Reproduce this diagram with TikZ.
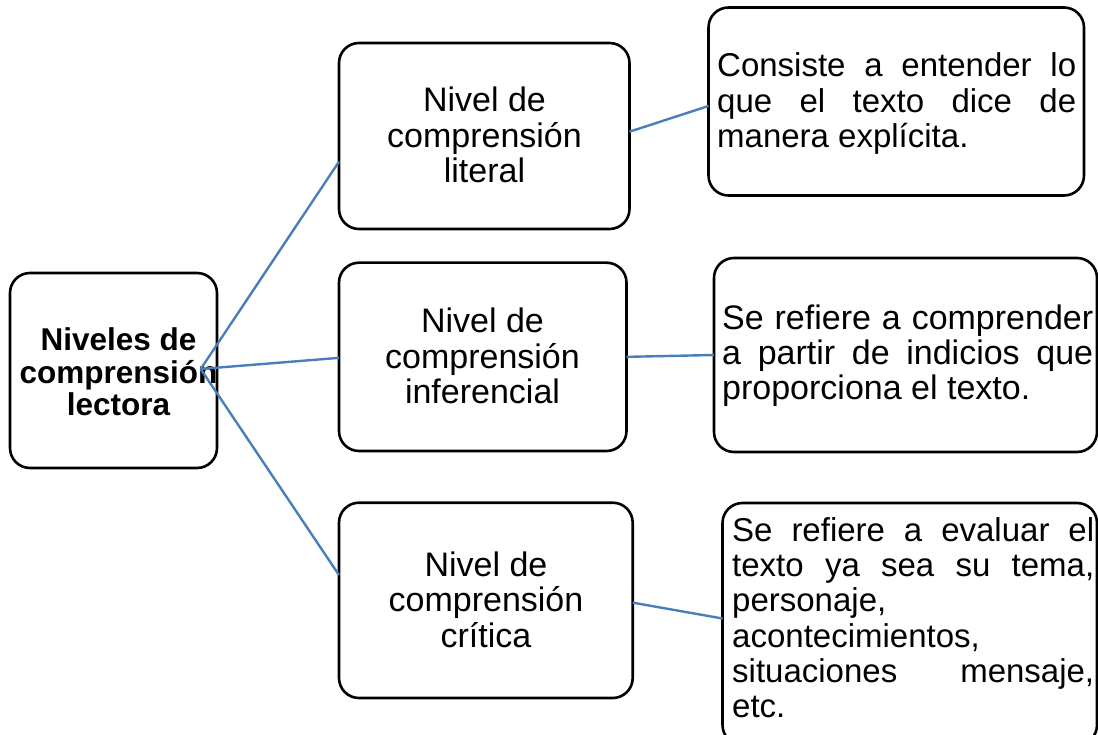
\documentclass[tikz,border=0pt]{standalone}
\usepackage{fontspec}
\setmainfont{Liberation Sans}
\newcommand\clines[1]{\vtop{\halign{\hfil##\hfil\cr#1\crcr}}}
\newcommand\gap{\hskip 0.28em plus 1fill\relax}
\definecolor{connblue}{RGB}{74,126,187}
\begin{document}
\begin{tikzpicture}[x=1pt,y=-1pt,
  box/.style={draw=black, line width=2.6pt, rounded corners=20pt, inner sep=0pt, outer sep=0pt, fill=white},
  conn/.style={draw=connblue, line width=2.4pt},
  midtext/.style={font=\fontsize{34}{35.5}\selectfont, anchor=base, inner sep=0pt},
  desctext/.style={font=\fontsize{33}{35.2}\selectfont, anchor=base west, inner sep=0pt},
  desctextb/.style={font=\fontsize{34}{35}\selectfont, anchor=base west, inner sep=0pt},
  roottext/.style={font=\bfseries\fontsize{31.5}{32.5}\selectfont, anchor=base, inner sep=0pt}]
\useasboundingbox[fill=white] (0,0) rectangle (1098,735);

% boxes
\node[box, minimum width=207pt, minimum height=195pt] (root) at (113.5,370.5) {};
\node[box, minimum width=290.5pt, minimum height=186pt] (lit) at (484.25,136) {};
\node[box, minimum width=287.5pt, minimum height=188.3pt] (inf) at (482.75,356.85) {};
\node[box, minimum width=293.7pt, minimum height=195.3pt] (cri) at (485.85,600.35) {};
\node[box, minimum width=375.5pt, minimum height=188pt] (d1) at (896.25,101.5) {};
\node[box, minimum width=383pt, minimum height=194pt] (d2) at (905.5,355) {};
\node[box, minimum width=374.5pt, minimum height=242pt] (d3) at (909.75,624) {};

% texts
\node[roottext] (rootT) at (118.5,351) {\clines{Niveles de\cr comprensión\cr lectora}};
\node[midtext] (litT) at (484.5,112) {\clines{Nivel de\cr comprensión\cr literal}};
\node[midtext] (infT) at (482.5,333) {\clines{Nivel de\cr comprensión\cr inferencial}};
\node[midtext] (criT) at (486,576) {\clines{Nivel de\cr comprensión\cr crítica}};

\node[desctext] (d1T) at (717,77) {\vtop{%
  \hbox to 359pt{Consiste\gap a\gap entender\gap lo}%
  \hbox to 359pt{que\gap el\gap texto\gap dice\gap de}%
  \hbox{manera explícita.}}};
\node[desctextb] (d2T) at (722,330) {\vtop{%
  \hbox to 371pt{Se\gap refiere\gap a\gap comprender}%
  \hbox to 371pt{a\gap partir\gap de\gap indicios\gap que}%
  \hbox{proporciona el texto.}}};
\node[desctext] (d3T) at (732,541.5) {\vtop{%
  \hbox to 362pt{Se\gap refiere\gap a\gap evaluar\gap el}%
  \hbox to 362pt{texto\gap ya\gap sea\gap su\gap tema,}%
  \hbox{personaje,}%
  \hbox{acontecimientos,}%
  \hbox to 362pt{situaciones\gap mensaje,}%
  \hbox{etc.}}};

% connectors
\coordinate (hub) at (200.7,369);
\draw[conn] (hub) -- ([yshift=-25.7pt]lit.west);
\draw[conn] (hub) -- ([yshift=-1pt]inf.west);
\draw[conn] (hub) -- ([yshift=25.3pt]cri.west);
\draw[conn] ([yshift=4.3pt]lit.east) -- ([yshift=-4.5pt]d1.west);
\draw[conn] (inf.east) -- (d2.west);
\draw[conn] ([yshift=-2.3pt]cri.east) -- ([yshift=5.5pt]d3.west);
\end{tikzpicture}
\end{document}
